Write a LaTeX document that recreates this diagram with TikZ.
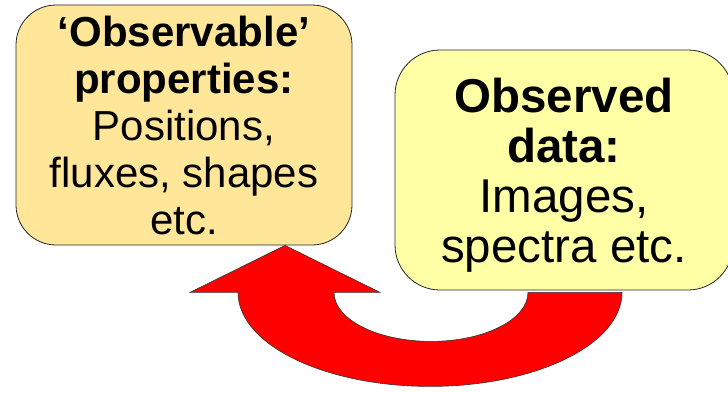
\documentclass[tikz,border=0pt]{standalone}
\usepackage{fontspec}
\setmainfont{Liberation Sans}
\usepackage{xcolor}
\usetikzlibrary{positioning, calc}
\definecolor{boxorange}{HTML}{FFE699}
\definecolor{boxyellow}{HTML}{FFFFA6}
\tikzset{
  % Riquadri
  box/.style={draw=black!85,line width=0.8pt,rounded corners=40pt,align=center,
    minimum height=240pt,inner sep=0pt},
  box model/.style={box,fill=boxorange,minimum width=336pt,
    font=\fontsize{42}{47}\selectfont},
  box data/.style={box,fill=boxyellow,minimum width=338pt,rounded corners=45pt,
    font=\fontsize{47.5}{50}\selectfont,text depth=0pt},
  % Freccia
  bigarrow/.style={fill=red,draw=black!80,line width=0.6pt}
}
\begin{document}
\begin{tikzpicture}[x=1pt,y=1pt]
  \useasboundingbox (0,0) rectangle (728,392);
  \node[box model] (model) at (184,267)
    {\textbf{‘Observable’}\\\textbf{properties:}\\Positions,\\fluxes, shapes\\etc.};
  \node[box data] (data) at (564,222)
    {\textbf{Observed}\\\textbf{data:}\\Images,\\spectra etc.};
  \coordinate (tip) at ([xshift=101pt]model.south);
  \draw[bigarrow] (tip) -- ++(-95,-47) -- ++(48,0)
    arc[start angle=180,end angle=360,x radius=192pt,y radius=94pt]
    -- ++(-94,0)
    arc[start angle=0,end angle=-180,x radius=97pt,y radius=49pt]
    -- ++(46,0) -- cycle;
\end{tikzpicture}
\end{document}
